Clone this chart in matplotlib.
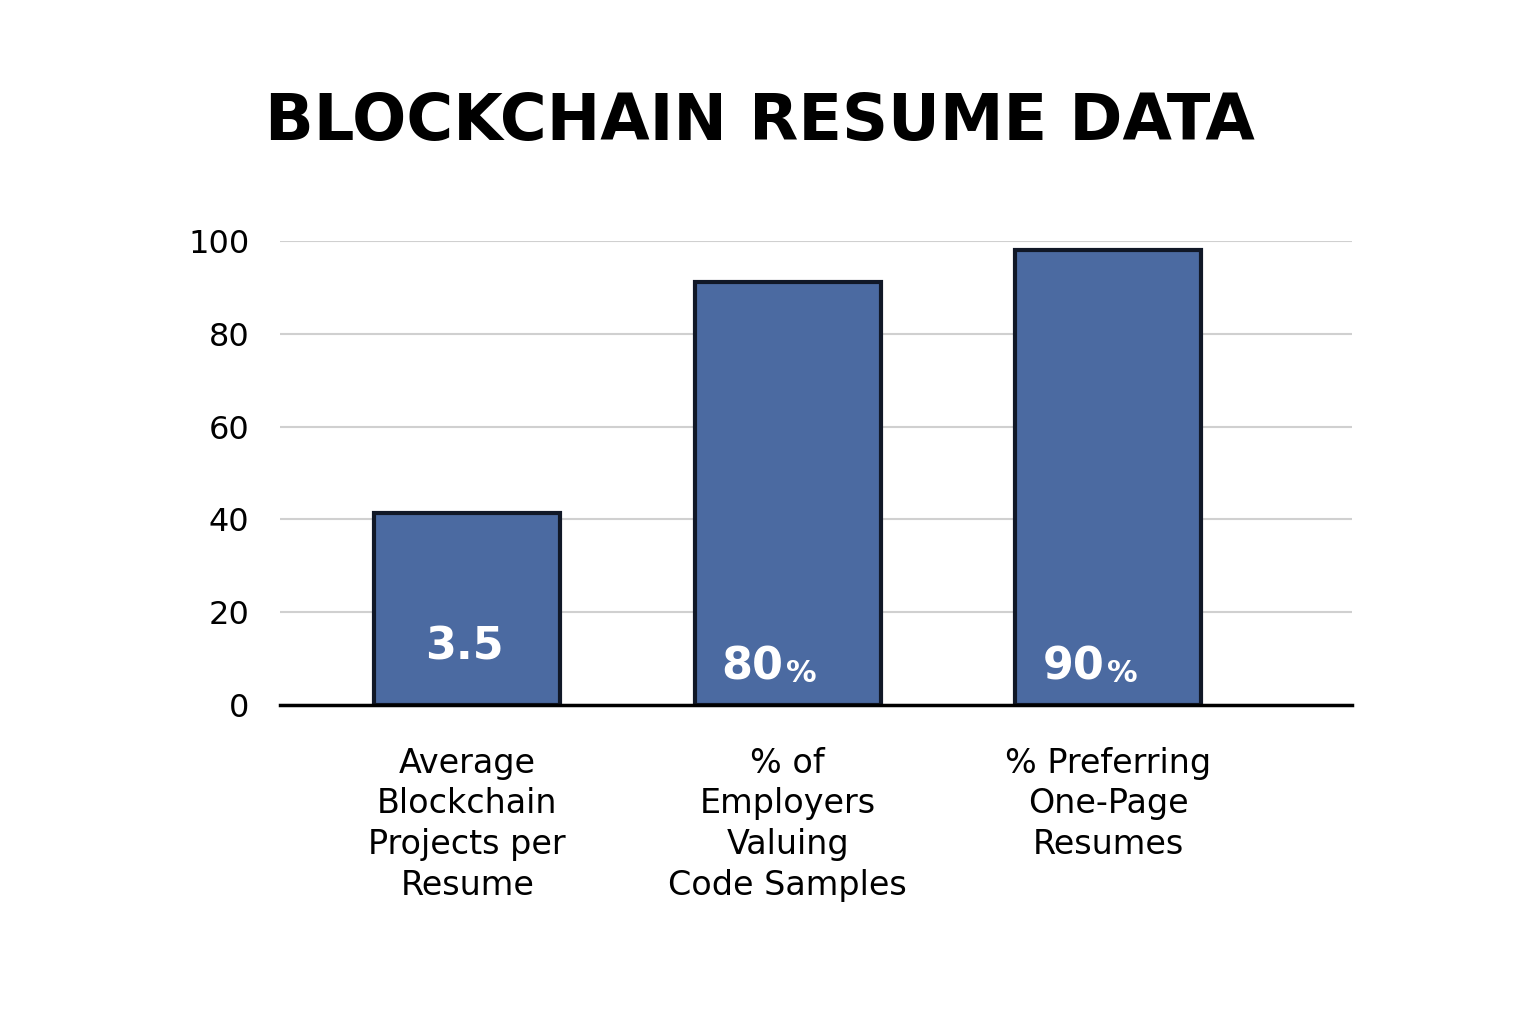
import matplotlib
matplotlib.use('Agg')
import matplotlib.pyplot as plt

# chart data
categories = ["Average\nBlockchain\nProjects per\nResume",
              "% of\nEmployers\nValuing\nCode Samples",
              "% Preferring\nOne-Page\nResumes"]
bar_heights = [41.4, 91.2, 98.1]
value_main = ["3.5", "80", "90"]
value_suffix = ["", "%", "%"]
y_ticks = [0, 20, 40, 60, 80, 100]

plt.rcParams['font.family'] = ['DejaVu Sans']

fig = plt.figure(figsize=(15.36, 10.24), dpi=100)
ax = fig.add_axes([280/1536, 1 - 705/1024, (1352-280)/1536, (705-241)/1024])

x = list(range(len(categories)))
ax.bar(x, bar_heights, width=0.58, color='#4b6aa1', edgecolor='#111827',
       linewidth=3, zorder=3)

ax.set_xlim(-0.584, 2.76)
ax.set_ylim(0, 100)
ax.set_yticks(y_ticks)
ax.set_yticklabels([str(t) for t in y_ticks], fontsize=23)
ax.tick_params(axis='y', length=0, pad=22)
ax.set_xticks(x)
ax.set_xticklabels(categories, fontsize=24, linespacing=1.3, va='top')
ax.tick_params(axis='x', length=0, pad=30)
ax.grid(axis='y', color='#d0d0d0', linewidth=1.5, zorder=0)
for s in ['top', 'right', 'left']:
    ax.spines[s].set_visible(False)
ax.spines['bottom'].set_linewidth(2.5)
ax.spines['bottom'].set_zorder(4)

# value labels inside the bars
for i, (m, suf) in enumerate(zip(value_main, value_suffix)):
    if suf:
        ax.annotate(m, (i, 0), xytext=(-3, 12), textcoords='offset points',
                    ha='right', va='bottom', color='white', fontsize=32,
                    fontweight='bold', zorder=5)
        ax.annotate(suf, (i, 0), xytext=(-1, 12), textcoords='offset points',
                    ha='left', va='bottom', color='white', fontsize=22,
                    fontweight='bold', zorder=5)
    else:
        ax.annotate(m, (i, 0), xytext=(-2, 26), textcoords='offset points',
                    ha='center', va='bottom', color='white', fontsize=32,
                    fontweight='bold', zorder=5)

fig.text(760/1536, 1 - 122/1024, "BLOCKCHAIN RESUME DATA", ha='center',
         va='center', fontsize=46, fontweight='bold')

fig.savefig('out.png', dpi=100, facecolor='white')
